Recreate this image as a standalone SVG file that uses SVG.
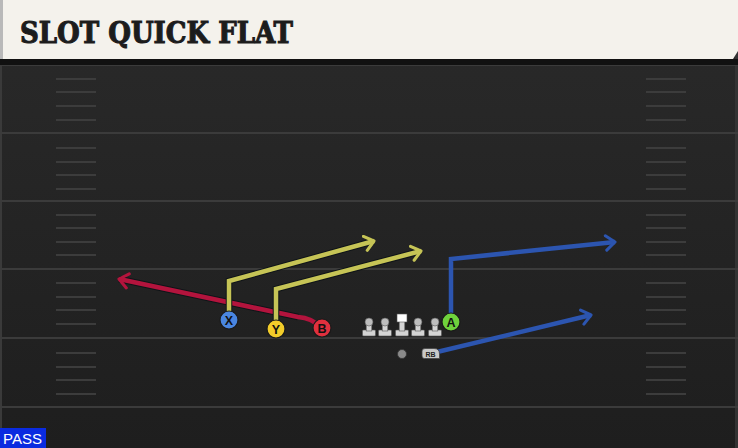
<svg xmlns="http://www.w3.org/2000/svg" width="738" height="448" viewBox="0 0 738 448">
<defs>
<linearGradient id="bg" x1="0" y1="0" x2="0" y2="1">
<stop offset="0" stop-color="#2a2a2a"/>
<stop offset="1" stop-color="#1e1e1e"/>
</linearGradient>
<marker id="ahY" viewBox="0 0 10 10" refX="6" refY="5" markerWidth="4" markerHeight="4" orient="auto" markerUnits="strokeWidth">
<path d="M1,1 L6,5 L1,9" fill="none" stroke="#c6c456" stroke-width="1.7" stroke-linecap="round" stroke-linejoin="round"/>
</marker>
<marker id="ahB" viewBox="0 0 10 10" refX="6" refY="5" markerWidth="4" markerHeight="4" orient="auto" markerUnits="strokeWidth">
<path d="M1,1 L6,5 L1,9" fill="none" stroke="#2c55b0" stroke-width="1.7" stroke-linecap="round" stroke-linejoin="round"/>
</marker>
<marker id="ahR" viewBox="0 0 10 10" refX="6" refY="5" markerWidth="4" markerHeight="4" orient="auto" markerUnits="strokeWidth">
<path d="M1,1 L6,5 L1,9" fill="none" stroke="#b3143d" stroke-width="1.7" stroke-linecap="round" stroke-linejoin="round"/>
</marker>
<g id="lineman">
<rect x="-6.5" y="8" width="13" height="6" rx="1" fill="#d4d4d4" stroke="#555" stroke-width="0.6"/>
<rect x="-2.8" y="0" width="5.6" height="9" fill="#d4d4d4" stroke="#555" stroke-width="0.6"/>
<circle cx="0" cy="0" r="4" fill="#bdbdbd" stroke="#555" stroke-width="0.6"/>
</g>
</defs>
<style>
.yl{stroke:#3b3b3b;stroke-width:2}
.hash{stroke:#3c3c3c;stroke-width:2}
.rt{fill:none;stroke-width:4.5;stroke-linecap:butt;stroke-linejoin:miter}
.sh{fill:none;stroke:#0f1418;stroke-width:6.5;stroke-linejoin:miter}
.pl{stroke:#1a1a1a;stroke-width:1.2}
.lt{font-family:"Liberation Sans",Arial,sans-serif;font-weight:bold;font-size:12.5px;fill:#111;text-anchor:middle}
</style>
<rect x="0" y="0" width="738" height="448" fill="url(#bg)"/>
<rect x="0" y="0" width="2" height="448" fill="#3a3a3a"/>
<rect x="735" y="0" width="3" height="448" fill="#333"/>
<g id="field">
<line class="yl" x1="0" y1="65" x2="738" y2="65"/>
<line class="yl" x1="0" y1="133" x2="738" y2="133"/>
<line class="yl" x1="0" y1="201" x2="738" y2="201"/>
<line class="yl" x1="0" y1="269" x2="738" y2="269"/>
<line class="yl" x1="0" y1="338" x2="738" y2="338"/>
<line class="yl" x1="0" y1="407" x2="738" y2="407"/>
<g id="hashL">
<line class="hash" x1="56" y1="79" x2="96" y2="79"/><line class="hash" x1="56" y1="92" x2="96" y2="92"/><line class="hash" x1="56" y1="106" x2="96" y2="106"/><line class="hash" x1="56" y1="120" x2="96" y2="120"/>
<line class="hash" x1="56" y1="148" x2="96" y2="148"/><line class="hash" x1="56" y1="162" x2="96" y2="162"/><line class="hash" x1="56" y1="175" x2="96" y2="175"/><line class="hash" x1="56" y1="189" x2="96" y2="189"/>
<line class="hash" x1="56" y1="215" x2="96" y2="215"/><line class="hash" x1="56" y1="228" x2="96" y2="228"/><line class="hash" x1="56" y1="242" x2="96" y2="242"/><line class="hash" x1="56" y1="255" x2="96" y2="255"/>
<line class="hash" x1="56" y1="283" x2="96" y2="283"/><line class="hash" x1="56" y1="297" x2="96" y2="297"/><line class="hash" x1="56" y1="310" x2="96" y2="310"/><line class="hash" x1="56" y1="324" x2="96" y2="324"/>
<line class="hash" x1="56" y1="353" x2="96" y2="353"/><line class="hash" x1="56" y1="367" x2="96" y2="367"/><line class="hash" x1="56" y1="380" x2="96" y2="380"/><line class="hash" x1="56" y1="394" x2="96" y2="394"/>
</g>
<use href="#hashL" x="590" y="0"/>
</g>
<g id="header">
<rect x="0" y="59" width="738" height="6" fill="#111"/>
<path d="M0,0 H738 V51 L733,59 H0 Z" fill="#f4f2ec"/>
<rect x="0" y="0" width="3" height="59" fill="#b9b9b9"/>
<text x="20" y="43" font-family="'DejaVu Serif',serif" font-weight="bold" font-stretch="condensed" font-size="29" fill="#1c1c1c" stroke="#1c1c1c" stroke-width="1" textLength="273" lengthAdjust="spacingAndGlyphs">SLOT QUICK FLAT</text>
</g>
<g id="connectors">
<path class="sh" d="M298,317 L119,279"/>
<path class="rt" stroke="#b3143d" d="M320,327 Q312,318 298,317 L119,279" marker-end="url(#ahR)"/>
<path class="sh" d="M229,318 V281 L374,241"/>
<path class="rt" stroke="#c6c456" d="M229,318 V281 L374,241" marker-end="url(#ahY)"/>
<path class="sh" d="M276,326 V289 L421,251"/>
<path class="rt" stroke="#c6c456" d="M276,326 V289 L421,251" marker-end="url(#ahY)"/>
<path class="rt" stroke="#2c55b0" d="M451,318 V259 L615,242" marker-end="url(#ahB)"/>
<path class="rt" stroke="#2c55b0" d="M437,352 L591,315" marker-end="url(#ahB)"/>
</g>
<g id="X"><circle class="pl" cx="229" cy="320" r="9" fill="#4a86e0"/><text class="lt" x="229" y="324.5">X</text></g>
<g id="Y"><circle class="pl" cx="276" cy="329" r="9" fill="#f2cc2a"/><text class="lt" x="276" y="333.5">Y</text></g>
<g id="B"><circle class="pl" cx="322" cy="328" r="9" fill="#e0303e"/><text class="lt" x="322" y="332.5">B</text></g>
<g id="A"><circle class="pl" cx="451" cy="322" r="9" fill="#6fd23c"/><text class="lt" x="451" y="326.5">A</text></g>
<g id="LT"><use href="#lineman" x="369" y="322"/></g>
<g id="LG"><use href="#lineman" x="385" y="322"/></g>
<g id="C">
<rect x="395.5" y="330" width="13" height="6" rx="1" fill="#d4d4d4" stroke="#555" stroke-width="0.6"/>
<rect x="399.2" y="320" width="5.6" height="11" fill="#d4d4d4" stroke="#555" stroke-width="0.6"/>
<rect x="397" y="314" width="10" height="8" fill="#ffffff" stroke="#555" stroke-width="0.6"/>
</g>
<g id="RG"><use href="#lineman" x="418" y="322"/></g>
<g id="RT"><use href="#lineman" x="435" y="322"/></g>
<g id="QB"><circle cx="402" cy="354" r="4.5" fill="#8a8a8a" stroke="#333" stroke-width="0.8"/></g>
<g id="RB"><path d="M422,351 Q422,348.5 425,348.5 H434 Q439.5,348.5 439.5,354 V358.5 H424.5 Q422,358.5 422,356 Z" fill="#c9c9c9" stroke="#444" stroke-width="0.8"/><text x="430.5" y="356.5" font-family="'Liberation Sans',Arial,sans-serif" font-weight="bold" font-size="7" fill="#222" text-anchor="middle">RB</text></g>
<g id="pass"><rect x="0" y="428" width="46" height="20" fill="#0a2be0"/><text x="3" y="444" font-family="'Liberation Sans',Arial,sans-serif" font-size="15" fill="#ffffff" textLength="39" lengthAdjust="spacingAndGlyphs">PASS</text></g>
</svg>
